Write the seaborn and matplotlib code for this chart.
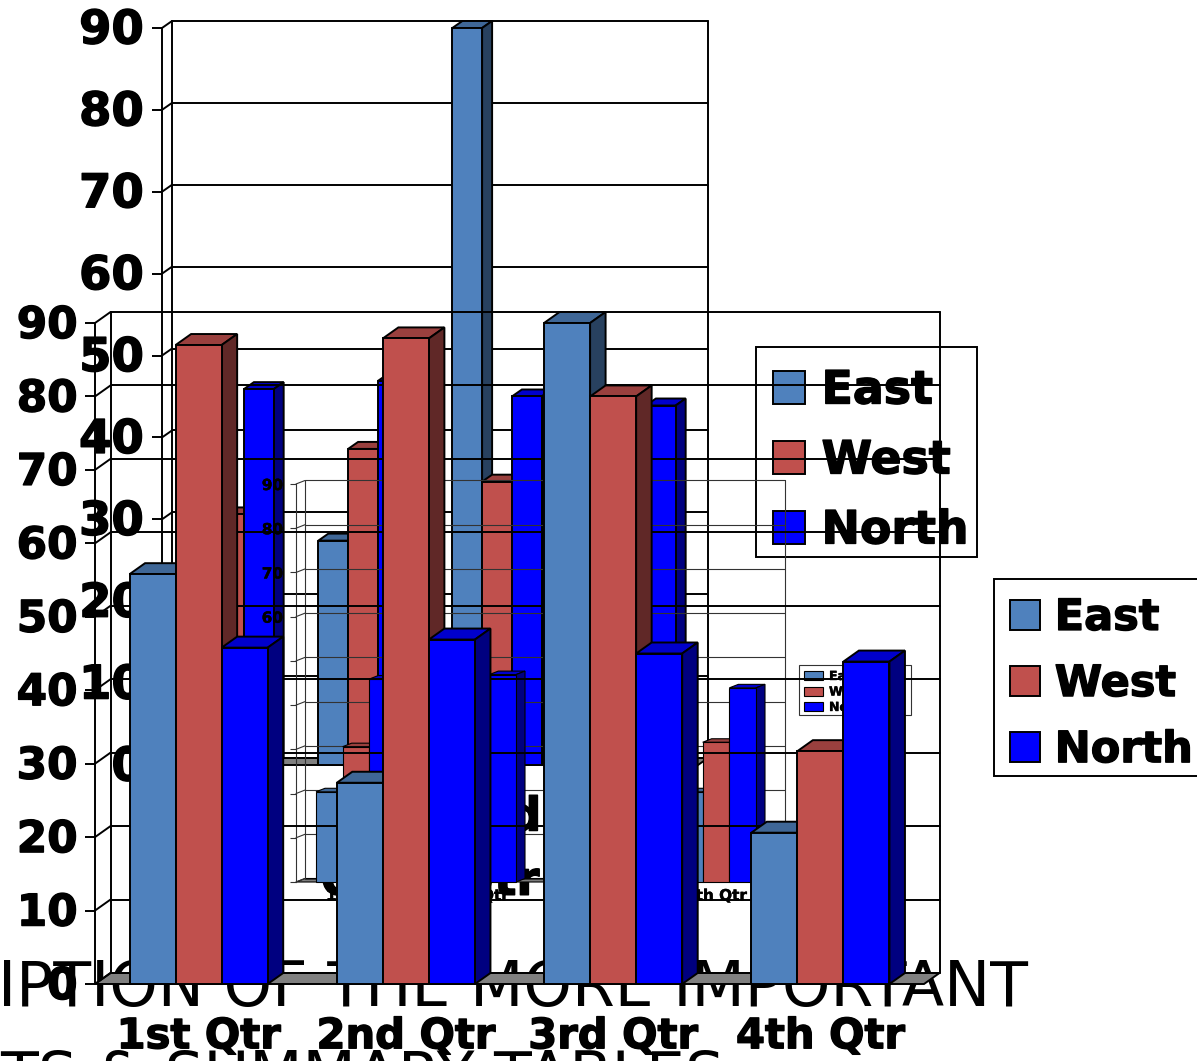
import matplotlib
matplotlib.use("Agg")
import matplotlib.pyplot as plt
import matplotlib.patheffects as pe
from matplotlib.colors import to_rgb
from matplotlib.patches import Polygon, Rectangle
from matplotlib.transforms import Affine2D
import pandas as pd
import seaborn as sns

W, H = 1197, 1061
quarters = ["1st Qtr", "2nd Qtr", "3rd Qtr", "4th Qtr"]
quarters_wrapped = ["1st\nQtr", "2nd\nQtr", "3rd\nQtr", "4th\nQtr"]
series = ["East", "West", "North"]
colors = ["#4F81BD", "#C0504D", "#0000FF"]

front_east = [55.8, 27.4, 90, 20.6]
front_west = [87, 87.9, 80, 31.7]
front_north = [45.8, 46.9, 45, 43.9]
back_east = [20.4, 27.4, 90, 20.4]
back_west = [30.6, 38.6, 34.6, 31.6]
back_north = [45.9, 46.9, 45, 43.9]
y_ticks = [0, 10, 20, 30, 40, 50, 60, 70, 80, 90]
title_line1 = "IPTION OF THE MORE IMPORTANT"
title_line2 = "TS & SUMMARY TABLES"

sns.set_theme(style="white")
plt.rcParams["font.family"] = ["DejaVu Sans"]

fig = plt.figure(figsize=(W / 100, H / 100), dpi=100, facecolor="white")


def shade(c, f):
    r, g, b = to_rgb(c)
    return (r * f, g * f, b * f)


def frame(left, top, right, bottom):
    return [left / W, 1 - bottom / H, (right - left) / W, (bottom - top) / H]


def heavy(texts, width):
    if width:
        for t in texts:
            t.set_path_effects([pe.withStroke(linewidth=width, foreground="black")])


def chart(rect_px, depth_px, east, west, north, labels, order, font, lw, grid_c,
          tick_px, tick_pad, cat_pad, spacing, stroke, label_lift, legend_box, legend_top, legend_kw):
    ax = fig.add_axes(frame(*rect_px), zorder=order)
    ax.patch.set_visible(False)
    df = pd.DataFrame({
        "q": quarters * 3,
        "s": [s for s in series for _ in quarters],
        "v": list(east) + list(west) + list(north),
    })
    sns.barplot(data=df, x="q", y="v", hue="s", hue_order=series, palette=colors,
                saturation=1, width=2 / 3, gap=0, edgecolor="black", linewidth=lw,
                legend=False, ax=ax, err_kws={"linewidth": 0})
    ax.set_xlim(-0.5, 3.5)
    ax.set_ylim(0, 90)
    ax.set_autoscale_on(False)
    left, top, right, bottom = rect_px
    dx = depth_px[0] / ((right - left) / 4)
    dy = depth_px[1] / ((bottom - top) / 90)
    x0, x1 = -0.5, 3.5

    ax.add_patch(Polygon([(x0, 0), (x0 + dx, dy), (x1 + dx, dy), (x1, 0)], closed=True,
                         fc="#808080", ec="black", lw=lw, clip_on=False, zorder=1))
    for v in y_ticks:
        ax.plot([x0 + dx, x1 + dx], [v + dy, v + dy], color=grid_c, lw=lw, clip_on=False, zorder=1.5)
        ax.plot([x0, x0 + dx], [v, v + dy], color=grid_c, lw=lw, clip_on=False, zorder=1.5)
    ax.plot([x0 + dx, x0 + dx], [dy, 90 + dy], color=grid_c, lw=lw, clip_on=False, zorder=1.5)
    ax.plot([x1 + dx, x1 + dx], [dy, 90 + dy], color=grid_c, lw=lw, clip_on=False, zorder=1.5)

    bars = [p for c in ax.containers for p in c.patches]
    bars.sort(key=lambda p: p.get_x())
    for i, p in enumerate(bars):
        z = 3 + i * 0.01
        a, w, h = p.get_x(), p.get_width(), p.get_height()
        c = p.get_facecolor()[:3]
        p.set_zorder(z + 0.005)
        p.set_clip_on(False)
        ax.add_patch(Polygon([(a, h), (a + dx, h + dy), (a + w + dx, h + dy), (a + w, h)],
                             closed=True, fc=shade(c, 0.8), ec="black", lw=lw, clip_on=False, zorder=z))
        ax.add_patch(Polygon([(a + w, 0), (a + w + dx, dy), (a + w + dx, h + dy), (a + w, h)],
                             closed=True, fc=shade(c, 0.5), ec="black", lw=lw, clip_on=False, zorder=z))

    for name, sp in ax.spines.items():
        sp.set_visible(name == "left")
    ax.spines["left"].set_color(grid_c)
    ax.spines["left"].set_linewidth(lw)
    ax.set_xlabel("")
    ax.set_ylabel("")
    ax.set_yticks(y_ticks)
    ax.set_yticklabels([str(v) for v in y_ticks], fontsize=font[0], fontweight="bold", color="black")
    ax.tick_params(axis="y", left=True, length=tick_px * 0.72, width=lw, color=grid_c, pad=tick_pad)
    ax.set_xticks(range(4))
    ax.set_xticklabels(labels, fontsize=font[1], fontweight="bold", color="black", linespacing=spacing)
    ax.tick_params(axis="x", bottom=False, pad=cat_pad)
    heavy(ax.get_yticklabels() + ax.get_xticklabels(), stroke)
    for t in ax.get_yticklabels():
        t.set_transform(t.get_transform() + Affine2D().translate(0, label_lift))

    # legend box in figure fractions, legend entries set inside it
    bx0, by0, bx1, by1 = legend_box
    ax.add_patch(Rectangle((bx0 / W, 1 - by1 / H), (bx1 - bx0) / W, (by1 - by0) / H,
                           transform=fig.transFigure, fc="white", ec=grid_c, lw=lw,
                           clip_on=False, zorder=9))
    leg = ax.legend(handles=list(ax.containers), labels=series, loc="upper left",
                    bbox_to_anchor=(bx0 / W, 1 - legend_top / H), bbox_transform=fig.transFigure,
                    prop={"weight": "bold", "size": font[2]},
                    frameon=False, borderaxespad=0, **legend_kw)
    leg.set_zorder(10)
    for t in leg.get_texts():
        t.set_color("black")
    heavy(leg.get_texts(), stroke)
    return ax


fig.text(-2 / W, 1 - 989 / H, title_line1, fontsize=44.5, color="black", ha="left", va="center", zorder=0)
fig.text(0 / W, 1 - 1079 / H, title_line2, fontsize=44.5, color="black", ha="left", va="center", zorder=0)

chart((162, 28, 698, 765), (10, 7), back_east, back_west, back_north, quarters_wrapped,
      1, (33.5, 33.5, 33), 1.4, "black", 10, 5.9, 16, 1.55, 1.0, 2,
      (756, 347, 977, 557), 352, dict(handlelength=0.71, handleheight=0.71, handletextpad=0.36,
                                      labelspacing=0.545, borderpad=0.36))

chart((296, 484, 776, 882), (9, 3.5), back_east, back_west, back_north, quarters,
      2, (11, 11, 9), 0.8, "#333333", 6, 5, -1.5, 1.05, 0.3, 0,
      (799, 665, 911, 715), 665, dict(handlelength=1.5, handleheight=0.7, handletextpad=0.5,
                                      labelspacing=0.2, borderpad=0.4))

chart((95, 323, 924, 984), (15.5, 11), front_east, front_west, front_north, quarters,
      3, (31.5, 30, 31), 1.4, "black", 10, 5.3, 16.5, 1.05, 1.0, 2,
      (994, 579, 1210, 776), 581, dict(handlelength=0.7, handleheight=0.7, handletextpad=0.34,
                                       labelspacing=0.56, borderpad=0.37))

fig.savefig("out.png", dpi=100, facecolor="white")
